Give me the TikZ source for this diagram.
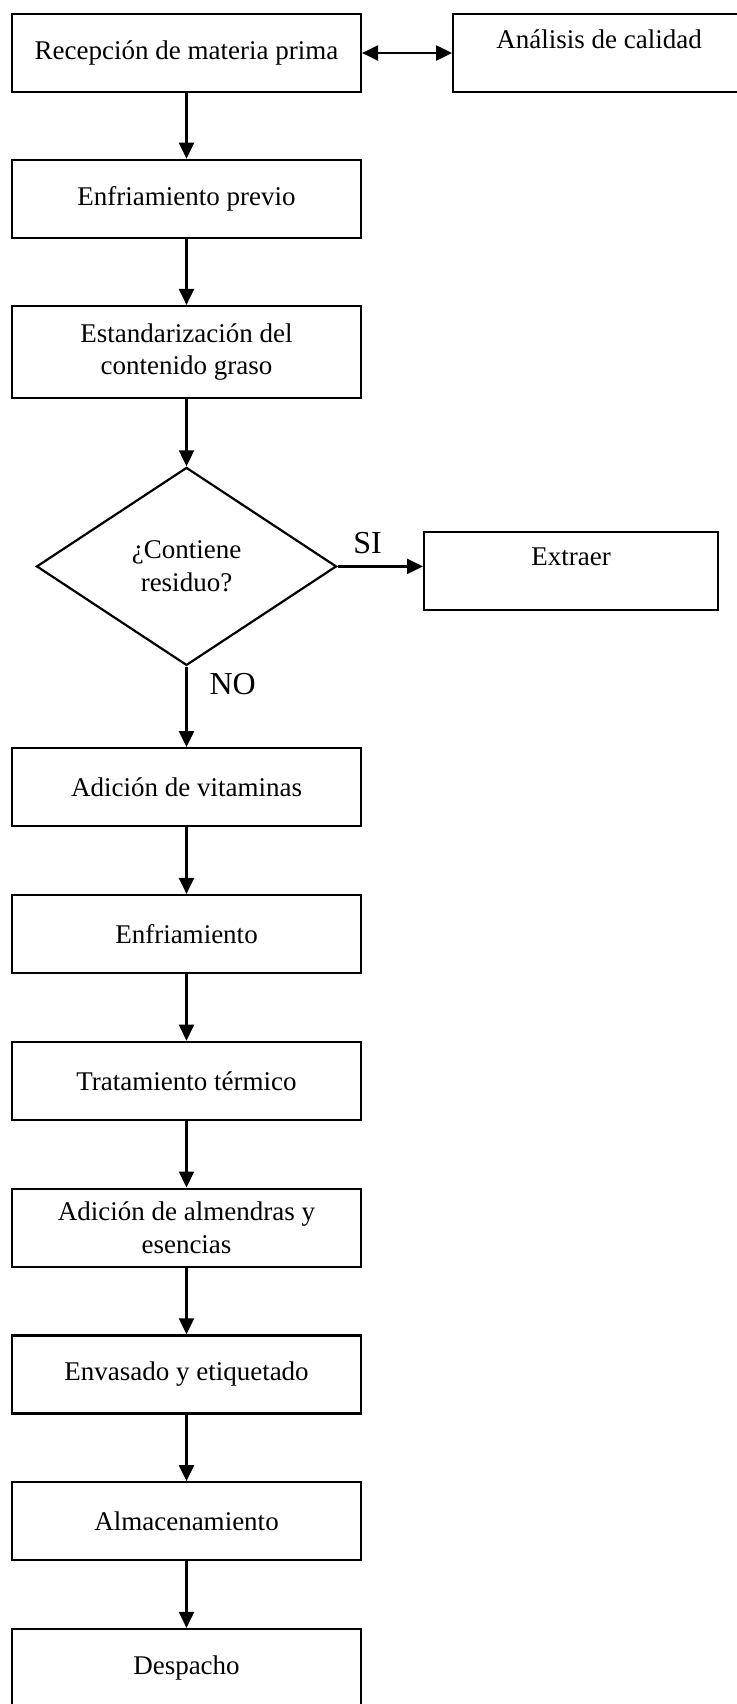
\documentclass[tikz,border=0pt]{standalone}
\usepackage{fontspec}
\setmainfont{Liberation Serif}
\usepackage{tikz}
\usetikzlibrary{arrows.meta,positioning,shapes.geometric}
\tikzset{
  flowarrow/.style={-{Triangle[length=8pt, width=7.5pt]}, line width=1.1pt, draw=black},
  dblarrow/.style={{Triangle[length=8pt, width=7.5pt]}-{Triangle[length=8pt, width=7.5pt]},
    line width=1.1pt, draw=black},
  stepbox/.style={draw=black, line width=1.1pt, rectangle, align=center,
    minimum width=174.5pt, minimum height=39pt, inner sep=2pt,
    font=\fontsize{13.5pt}{16.3pt}\selectfont},
  toptext/.style={text height=9pt, text depth=14pt},
  decision/.style={draw=black, line width=1.1pt, diamond, align=center,
    minimum width=150pt, minimum height=99pt, inner sep=0pt,
    font=\fontsize{13.5pt}{16.3pt}\selectfont},
  branchlabel/.style={font=\fontsize{16pt}{19pt}\selectfont, inner sep=1pt}
}
\begin{document}
\begin{tikzpicture}[x=0.5pt, y=-0.5pt, node distance=33.3pt]
    \useasboundingbox (0,0) rectangle (736,1704);

    \node[stepbox] (recep) at (186.5,53) {Recepción de materia prima};
    \node[stepbox, toptext, minimum width=146pt, right=45pt of recep] (analisis) {Análisis de calidad};
    \node[stepbox, below=32.8pt of recep] (enfprev) {Enfriamiento previo};
    \node[stepbox, minimum height=46pt, below=33pt of enfprev] (estand) {Estandarización del\\contenido graso};
    \node[decision, below=33.6pt of estand] (cond) {¿Contiene\\residuo?};
    \node[stepbox, toptext, minimum width=147pt, right=42.7pt of cond, yshift=-2.2pt] (extraer) {Extraer};
    \node[stepbox, below=40.3pt of cond] (vitam) {Adición de vitaminas};
    \node[stepbox, below=of vitam] (enfr) {Enfriamiento};
    \node[stepbox, below=of enfr] (trat) {Tratamiento térmico};
    \node[stepbox, below=of trat] (almend) {Adición de almendras y\\esencias};
    \node[stepbox, below=of almend] (envas) {Envasado y etiquetado};
    \node[stepbox, below=of envas] (almac) {Almacenamiento};
    \node[stepbox, below=of almac] (desp) {Despacho};

    \draw[dblarrow] (recep) -- (analisis);
    \draw[flowarrow] (recep) -- (enfprev);
    \draw[flowarrow] (enfprev) -- (estand);
    \draw[flowarrow] (estand) -- (cond);
    \draw[flowarrow] (cond.east) -- node[branchlabel, pos=0.35, above=4.7pt] {SI} (extraer.west |- cond.east);
    \draw[flowarrow] (cond.south) -- node[branchlabel, pos=0.22, right=10pt] {NO} (vitam.north);
    \draw[flowarrow] (vitam) -- (enfr);
    \draw[flowarrow] (enfr) -- (trat);
    \draw[flowarrow] (trat) -- (almend);
    \draw[flowarrow] (almend) -- (envas);
    \draw[flowarrow] (envas) -- (almac);
    \draw[flowarrow] (almac) -- (desp);
\end{tikzpicture}
\end{document}
